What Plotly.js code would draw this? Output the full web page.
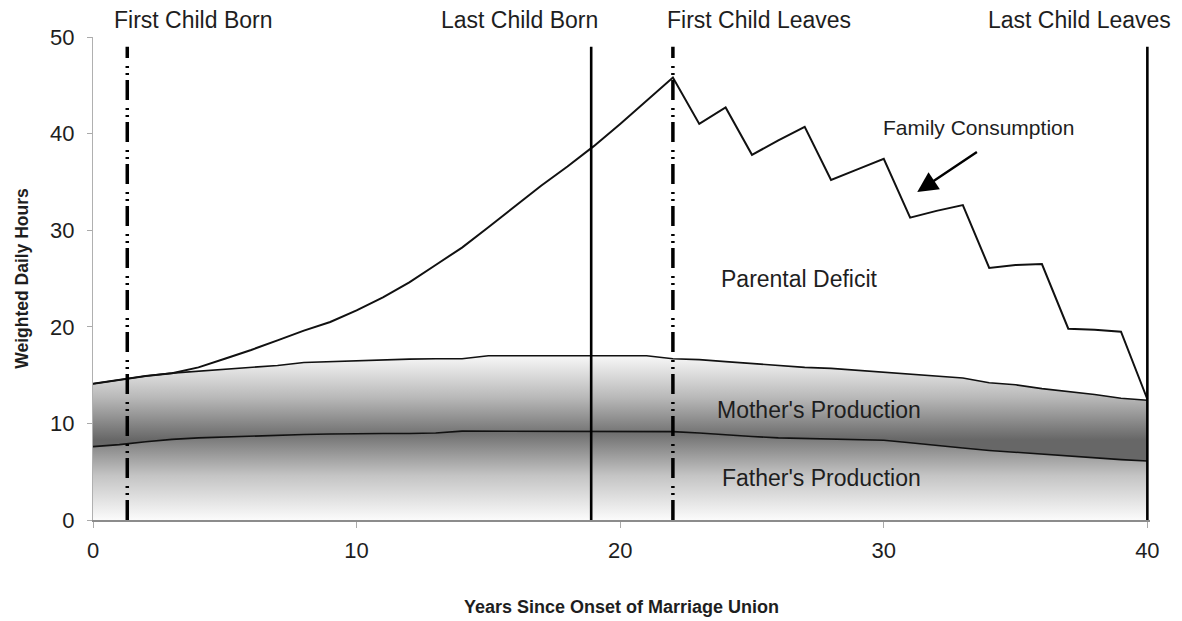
<!DOCTYPE html>
<html>
<head>
<meta charset="utf-8">
<script src="https://cdn.plot.ly/plotly-3.0.1.min.js"></script>
<style>html,body{margin:0;padding:0;background:#fff;}#chart{width:1182px;height:621px;}</style>
</head>
<body>
<div id="chart"></div>
<script>
// ---- data ----
const years = [0,1,2,3,4,5,6,7,8,9,10,11,12,13,14,15,16,17,18,19,20,21,22,23,24,25,26,27,28,29,30,31,32,33,34,35,36,37,38,39,40];
const fatherProduction = [7.6,7.8,8.1,8.35,8.5,8.6,8.7,8.8,8.85,8.9,8.95,8.95,8.95,9.0,9.2,9.2,9.2,9.2,9.2,9.2,9.2,9.2,9.15,9.0,8.8,8.65,8.5,8.45,8.4,8.3,8.25,8.0,7.7,7.45,7.2,7.0,6.8,6.6,6.4,6.25,6.1];
const motherProduction = [6.5,6.7,6.8,6.85,6.9,7.0,7.1,7.2,7.45,7.5,7.55,7.65,7.7,7.7,7.5,7.8,7.8,7.8,7.8,7.8,7.8,7.8,7.55,7.6,7.6,7.55,7.5,7.35,7.3,7.2,7.05,7.1,7.2,7.25,7.0,7.0,6.8,6.7,6.6,6.35,6.3];
const familyConsumption = [14.1,14.5,14.9,15.2,15.8,16.7,17.6,18.6,19.6,20.5,21.7,23.05,24.6,26.4,28.2,30.3,32.5,34.6,36.6,38.7,41.0,43.4,45.8,41.0,42.7,37.8,39.3,40.7,35.2,36.3,37.4,31.3,32.0,32.6,26.1,26.4,26.5,19.8,19.7,19.5,12.5];
const eventYears = [1.3, 18.9, 22, 40];
const eventLabels = ["First Child Born", "Last Child Born", "First Child Leaves", "Last Child Leaves"];
const xTicks = [0,10,20,30,40];
const yTicks = [0,10,20,30,40,50];

// ---- build traces ----
const totalProduction = fatherProduction.map((f, i) => +(f + motherProduction[i]).toFixed(2));
const txt = '#1e1e1e';
const font = 'Liberation Sans, Arial, sans-serif';

const traces = [
  {
    x: years, y: fatherProduction, type: 'scatter', mode: 'lines',
    line: {color: '#111', width: 1.6}, fill: 'tozeroy',
    fillgradient: {type: 'vertical', start: 0, stop: 9.2,
      colorscale: [[0, '#fbfbfb'], [0.5, '#c4c4c4'], [1, '#6c6c6c']]},
    hoverinfo: 'skip'
  },
  {
    x: years, y: totalProduction, type: 'scatter', mode: 'lines',
    line: {color: '#111', width: 1.6}, fill: 'tonexty',
    fillgradient: {type: 'vertical', start: 8.3, stop: 17,
      colorscale: [[0, '#676767'], [0.5, '#b8b8b8'], [1, '#f8f8f8']]},
    hoverinfo: 'skip'
  },
  {
    x: years, y: familyConsumption, type: 'scatter', mode: 'lines',
    line: {color: '#111', width: 2}, hoverinfo: 'skip'
  }
];

const dashStyles = ['20px,5px,2px,5px,2px,8px', 'solid', '20px,5px,2px,5px,2px,8px', 'solid'];
const widths = [3.5, 2.6, 3.5, 2.6];
eventYears.forEach((ev, i) => {
  traces.push({
    x: [ev, ev], y: [0, 49], type: 'scatter', mode: 'lines',
    line: {color: '#000', width: widths[i], dash: dashStyles[i]}, hoverinfo: 'skip'
  });
});

// label placement (paper fraction of the plot width)
const labelAnchors = [
  {x: 0.018, xanchor: 'left'},
  {x: 0.48, xanchor: 'right'},
  {x: 0.541, xanchor: 'left'},
  {x: 1.022, xanchor: 'right'}
];

const annotations = eventLabels.map((t, i) => ({
  text: t, x: labelAnchors[i].x, xref: 'paper', xanchor: labelAnchors[i].xanchor,
  y: 1.035, yref: 'paper', yanchor: 'middle', showarrow: false,
  font: {family: font, size: 23, color: txt}
}));

annotations.push(
  {text: 'Family Consumption', x: 33.59, y: 40.6, xref: 'x', yref: 'y', showarrow: false,
   font: {family: font, size: 21, color: txt}},
  {text: '', x: 31.27, y: 33.95, ax: 33.59, ay: 38.2, xref: 'x', yref: 'y', axref: 'x', ayref: 'y',
   showarrow: true, arrowhead: 2, arrowsize: 1.7, arrowwidth: 2.4, arrowcolor: '#000'},
  {text: 'Parental Deficit', x: 26.8, y: 24.95, xref: 'x', yref: 'y', showarrow: false,
   font: {family: font, size: 23, color: txt}},
  {text: "Mother's Production", x: 27.55, y: 11.39, xref: 'x', yref: 'y', showarrow: false,
   font: {family: font, size: 23, color: txt}},
  {text: "Father's Production", x: 27.63, y: 4.35, xref: 'x', yref: 'y', showarrow: false,
   font: {family: font, size: 23, color: txt}}
);

const layout = {
  width: 1182, height: 621,
  margin: {l: 93, r: 32.4, t: 37, b: 101, pad: 0},
  paper_bgcolor: '#fff', plot_bgcolor: '#fff',
  showlegend: false,
  font: {family: font, color: txt},
  xaxis: {
    range: [0, 40.1], tickvals: xTicks, ticktext: xTicks.map(String),
    showgrid: false, zeroline: false,
    showline: true, linecolor: '#8c8c8c', linewidth: 2,
    ticks: 'outside', ticklen: 6, tickcolor: '#aaa', tickwidth: 1,
    ticklabelstandoff: 4,
    tickfont: {family: font, size: 22, color: txt},
    title: {text: 'Years Since Onset of Marriage Union', standoff: 38,
      font: {family: font, size: 18, color: txt, weight: 'bold'}}
  },
  yaxis: {
    range: [0, 50], tickvals: yTicks, ticktext: yTicks.map(String),
    showgrid: false, zeroline: false,
    showline: true, linecolor: '#b0b0b0', linewidth: 1,
    ticks: 'outside', ticklen: 5, tickcolor: '#aaa', tickwidth: 1,
    ticklabelstandoff: 8,
    tickfont: {family: font, size: 22, color: txt},
    title: {text: 'Weighted Daily Hours', standoff: 16,
      font: {family: font, size: 17.5, color: txt, weight: 'bold'}}
  },
  annotations: annotations
};

Plotly.newPlot('chart', traces, layout, {displayModeBar: false, staticPlot: true});
</script>
</body>
</html>
